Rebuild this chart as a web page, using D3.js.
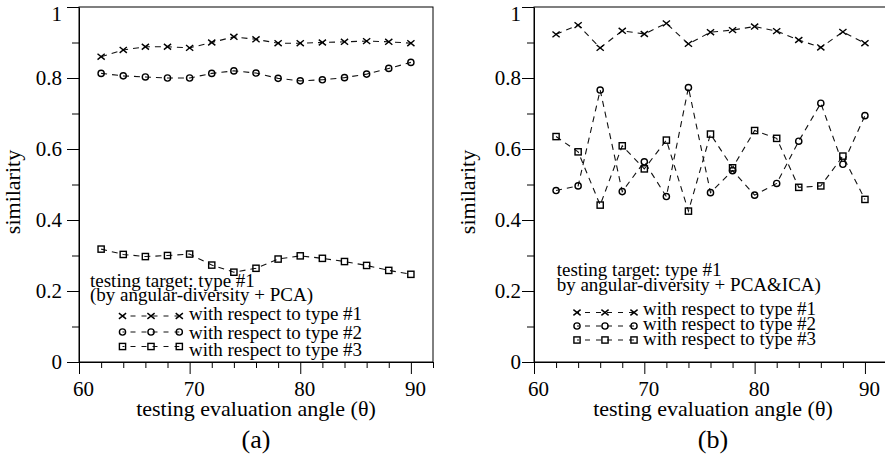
<!DOCTYPE html>
<html>
<head>
    <script src="https://cdn.jsdelivr.net/npm/d3@7"></script>
<style>
    body { margin: 0; background: white; }
    svg, svg text, .axis text { font-family: "Liberation Serif", "DejaVu Serif", "Times New Roman", serif; }
    svg text { fill: black; }
    .axis path, .axis line { stroke: black; stroke-width: 1; }
    .axis text { font-size: 21px; }
</style>
</head>

<body>
<div id="chart"></div>

<script>

    // testing evaluation angles
    var angles = [62, 64, 66, 68, 70, 72, 74, 76, 78, 80, 82, 84, 86, 88, 90];

    // (a) angular-diversity + PCA
    var pcaType1 = [0.860, 0.879, 0.888, 0.888, 0.885, 0.900, 0.916, 0.909, 0.898, 0.898, 0.900, 0.902, 0.904, 0.902, 0.898];
    var pcaType2 = [0.813, 0.806, 0.803, 0.800, 0.800, 0.813, 0.820, 0.814, 0.799, 0.792, 0.795, 0.801, 0.811, 0.827, 0.844];
    var pcaType3 = [0.318, 0.303, 0.297, 0.300, 0.304, 0.273, 0.253, 0.264, 0.290, 0.299, 0.292, 0.283, 0.272, 0.258, 0.247];

    // (b) angular-diversity + PCA&ICA
    var icaType1 = [0.923, 0.949, 0.885, 0.933, 0.924, 0.954, 0.896, 0.929, 0.935, 0.945, 0.932, 0.907, 0.886, 0.930, 0.898];
    var icaType2 = [0.483, 0.496, 0.766, 0.480, 0.564, 0.466, 0.773, 0.477, 0.539, 0.470, 0.503, 0.622, 0.729, 0.557, 0.694];
    var icaType3 = [0.635, 0.592, 0.442, 0.609, 0.544, 0.625, 0.425, 0.642, 0.547, 0.652, 0.630, 0.492, 0.496, 0.580, 0.458];

    var xMajor = [60, 70, 80, 90];
    var xMinor = [62, 64, 66, 68, 72, 74, 76, 78, 82, 84, 86, 88, 92];
    var yMajor = [0, 0.2, 0.4, 0.6, 0.8, 1];
    var yMinor = [0.1, 0.3, 0.5, 0.7, 0.9];

    var seriesNames = ["with respect to type #1", "with respect to type #2", "with respect to type #3"];
    var markerKinds = ["cross", "circle", "square"];
    var titleA = ["testing target: type #1", "(by angular-diversity + PCA)"];
    var titleB = ["testing target: type #1", "by angular-diversity + PCA&ICA)"];

    var width = 885, height = 460;
    var serif = '"Liberation Serif", "DejaVu Serif", "Times New Roman", serif';

    var svg = d3.select('#chart').append('svg')
        .attr('width', width)
        .attr('height', height)
        .attr('font-family', serif);

    var panels = [
        {
            series: [pcaType1, pcaType2, pcaType3], title: titleA, letter: "(a)",
            left: 79, right: 433, labelPad: 5, center: 256,
            titleX: 90, titleY: [286.5, 300.5],
            sampleX: [122.5, 151, 179.3], sampleY: [316, 332, 346.5],
            textX: 189, textY: [320, 338.5, 356]
        },
        {
            series: [icaType1, icaType2, icaType3], title: titleB, letter: "(b)",
            left: 534, right: 887, labelPad: 1, center: 713,
            titleX: 556.7, titleY: [275.5, 290.5],
            sampleX: [577, 605, 634], sampleY: [312.5, 326, 340],
            textX: 643, textY: [314.5, 329.5, 345]
        }
    ];

    function drawMarker(sel, kind) {
        if (kind === "cross") {
            sel.append('path').attr('d', 'M-3.6,-2.9L3.6,2.9M-3.6,2.9L3.6,-2.9');
        } else if (kind === "circle") {
            sel.append('circle').attr('r', 3.1);
        } else {
            sel.append('rect').attr('x', -3.1).attr('y', -3.1).attr('width', 6.2).attr('height', 6.2);
        }
    }

    panels.forEach(function(p) {
        var xScale = d3.scaleLinear().domain([60, 92]).range([p.left, p.right]);
        var yScale = d3.scaleLinear().domain([0, 1]).range([362, 7]);

        var g = svg.append('g');

        // frame
        g.append('rect')
            .attr('x', xScale(60)).attr('y', yScale(1))
            .attr('width', xScale(92) - xScale(60))
            .attr('height', yScale(0) - yScale(1))
            .attr('fill', 'none').attr('stroke', 'black');

        // minor ticks
        g.append('g').attr('class', 'axis')
            .attr('transform', 'translate(0,' + yScale(0) + ')')
            .call(d3.axisBottom(xScale).tickValues(xMinor).tickSize(6).tickFormat(''))
            .select('.domain').remove();
        g.append('g').attr('class', 'axis')
            .attr('transform', 'translate(' + xScale(60) + ',0)')
            .call(d3.axisLeft(yScale).tickValues(yMinor).tickSize(7).tickFormat(''))
            .select('.domain').remove();

        // major ticks
        var xAxis = g.append('g').attr('class', 'axis')
            .attr('transform', 'translate(0,' + yScale(0) + ')')
            .call(d3.axisBottom(xScale).tickValues(xMajor).tickSize(12).tickSizeOuter(0).tickPadding(7));
        xAxis.attr('font-family', serif);
        xAxis.selectAll('text').attr('dx', 4);

        var yAxis = g.append('g').attr('class', 'axis')
            .attr('transform', 'translate(' + xScale(60) + ',0)')
            .call(d3.axisLeft(yScale).tickValues(yMajor).tickSize(12).tickSizeOuter(0)
                .tickPadding(p.labelPad).tickFormat(d3.format('~g')));
        yAxis.attr('font-family', serif);
        yAxis.selectAll('text').filter(function(d) { return d === 1; }).attr('y', 7);

        // axis titles
        g.append('text')
            .attr('transform', 'translate(' + (xScale(60) - 59) + ',192) rotate(-90)')
            .attr('text-anchor', 'middle')
            .style('font-size', '22px')
            .text('similarity');

        g.append('text')
            .attr('x', p.center).attr('y', 416)
            .attr('text-anchor', 'middle')
            .style('font-size', '22px')
            .text('testing evaluation angle (\u03b8)');

        g.append('text')
            .attr('x', p.center).attr('y', 448)
            .attr('text-anchor', 'middle')
            .style('font-size', '26px')
            .text(p.letter);

        // series
        var line = d3.line()
            .x(function(d, i) { return xScale(angles[i]); })
            .y(function(d) { return yScale(d); });

        p.series.forEach(function(values, k) {
            g.append('path')
                .datum(values)
                .attr('d', line)
                .attr('fill', 'none')
                .attr('stroke', '#111')
                .attr('stroke-width', 1.1)
                .attr('stroke-dasharray', '6,5');

            g.selectAll('g.m' + k)
                .data(values)
                .enter()
                .append('g')
                .attr('class', 'm' + k)
                .attr('transform', function(d, i) { return 'translate(' + xScale(angles[i]) + ',' + yScale(d) + ')'; })
                .attr('fill', 'none')
                .attr('stroke', 'black')
                .attr('stroke-width', 1.4)
                .each(function() { drawMarker(d3.select(this), markerKinds[k]); });
        });

        // legend
        p.title.forEach(function(t, i) {
            g.append('text')
                .attr('x', p.titleX).attr('y', p.titleY[i])
                .style('font-size', '19px')
                .text(t);
        });

        seriesNames.forEach(function(name, k) {
            var ly = p.sampleY[k];
            g.append('line')
                .attr('x1', p.sampleX[0]).attr('x2', p.sampleX[2])
                .attr('y1', ly).attr('y2', ly)
                .attr('stroke', '#111')
                .attr('stroke-width', 1.1)
                .attr('stroke-dasharray', '5,6')
                .attr('stroke-dashoffset', -8);
            p.sampleX.forEach(function(sx) {
                var m = g.append('g')
                    .attr('transform', 'translate(' + sx + ',' + ly + ')')
                    .attr('fill', 'none')
                    .attr('stroke', 'black')
                    .attr('stroke-width', 1.4);
                drawMarker(m, markerKinds[k]);
            });
            g.append('text')
                .attr('x', p.textX).attr('y', p.textY[k])
                .style('font-size', '19px')
                .text(name);
        });
    });

</script>
</body>
</html>
